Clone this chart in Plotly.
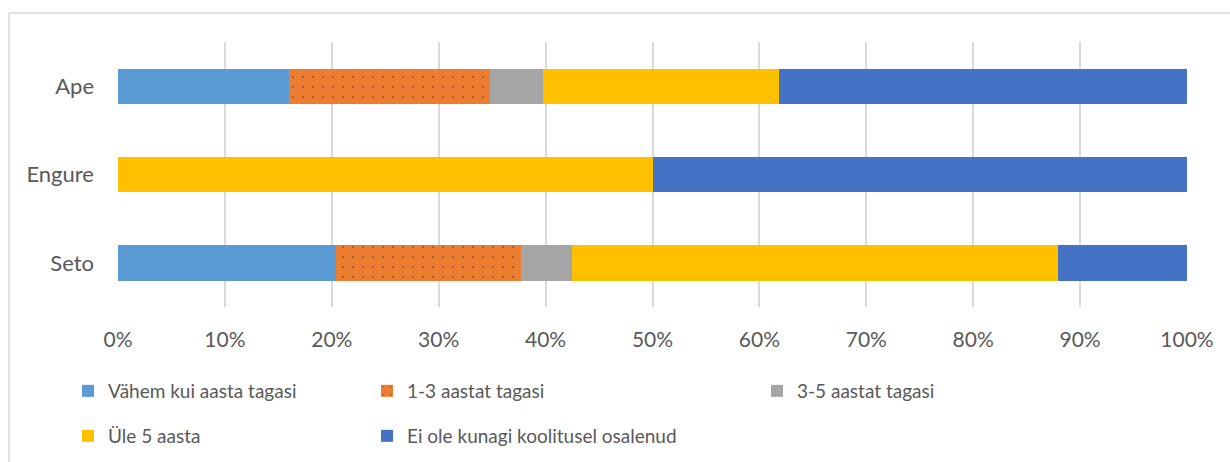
import plotly.graph_objects as go

categories = ["Seto", "Engure", "Ape"]
series_names = ["Vähem kui aasta tagasi", "1-3 aastat tagasi", "3-5 aastat tagasi",
                "Üle 5 aasta", "Ei ole kunagi koolitusel osalenud"]
vahem = [20.4, 0, 16.0]
aastat_1_3 = [17.3, 0, 18.8]
aastat_3_5 = [4.8, 0, 5.0]
ule_5 = [45.4, 50.0, 22.0]
ei_ole = [12.1, 50.0, 38.2]
tick_vals = [0, 10, 20, 30, 40, 50, 60, 70, 80, 90, 100]
tick_text = [f"{v}%" for v in tick_vals]

colors = ["#5B9BD5", "#ED7D31", "#A5A5A5", "#FFC000", "#4472C4"]
values = [vahem, aastat_1_3, aastat_3_5, ule_5, ei_ole]
legends = ["legend", "legend2", "legend3", "legend4", "legend5"]

FONT = "Lato, Open Sans, sans-serif"
TXT = "#595959"

fig = go.Figure()
for i, (name, vals) in enumerate(zip(series_names, values)):
    marker = dict(color=colors[i], line=dict(width=0))
    if i == 1:
        marker["pattern"] = dict(shape=".", fgcolor="#222222", bgcolor=colors[i],
                                 size=10, solidity=0.025, fillmode="overlay")
    fig.add_trace(go.Bar(y=categories, x=vals, name=name, orientation="h",
                         marker=marker, legend=legends[i], hoverinfo="skip"))

FW, FH = 1230, 462
L, R, T, B = 118, 1187, 42, 307
W, H = R - L, B - T
def px(x):
    return (x - L) / W
def py(y):
    return (B - y) / H

leg_pos = [(68, 391), (367, 391), (757, 391), (68, 436), (367, 436)]
leg_layout = {}
for key, (lx, ly) in zip(legends, leg_pos):
    leg_layout[key] = dict(x=lx / FW, y=1 - ly / FH, xref="container", yref="container",
                           xanchor="left", yanchor="middle",
                           orientation="h", bgcolor="rgba(0,0,0,0)",
                           font=dict(family=FONT, size=19, color=TXT),
                           itemwidth=30)

fig.update_layout(
    width=FW, height=FH,
    margin=dict(l=L, r=FW - R, t=T, b=FH - B),
    barmode="stack", bargap=0.6,
    plot_bgcolor="white", paper_bgcolor="white",
    font=dict(family=FONT, size=19, color=TXT),
    showlegend=True,
    **leg_layout,
    xaxis=dict(range=[0, 100], tickvals=tick_vals, ticktext=tick_text,
               showgrid=True, gridcolor="#D9D9D9", gridwidth=1.5,
               zeroline=False, showline=False, ticks="",
               ticklabelstandoff=18, automargin=False,
               tickfont=dict(family=FONT, size=21, color=TXT)),
    yaxis=dict(showgrid=False, zeroline=False, showline=False, ticks="",
               ticklabelstandoff=23, automargin=False,
               tickfont=dict(family=FONT, size=22, color=TXT)),
    shapes=[
        dict(type="line", xref="paper", yref="paper", x0=px(9), x1=px(9),
             y0=py(13), y1=py(470), line=dict(color="#D9D9D9", width=1.5)),
        dict(type="line", xref="paper", yref="paper", x0=px(9), x1=px(1240),
             y0=py(13), y1=py(13), line=dict(color="#D9D9D9", width=1.5)),
    ],
)

fig.write_html("out.html", config={"displayModeBar": False},
               post_script="document.body.style.margin='0';document.body.style.overflow='hidden';")
